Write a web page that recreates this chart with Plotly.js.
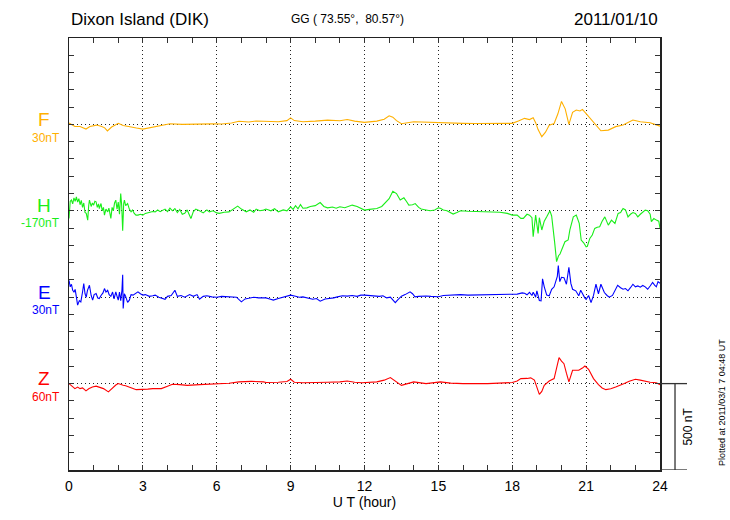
<!DOCTYPE html>
<html>
<head>
<meta charset="utf-8">
<script src="https://cdn.plot.ly/plotly-3.0.1.min.js"></script>
<style>html,body{margin:0;padding:0;background:#fff;}#chart{width:730px;height:520px;}</style>
</head>
<body>
<div id="chart"></div>
<script>
// Time in UT hours, values = deviation in nT from each component's baseline
const tF = [0,0.12,0.24,0.45,0.6,0.69,0.85,1.0,1.12,1.33,1.45,1.56,1.73,1.88,2.0,2.2,2.4,2.54,2.74,3.0,3.28,3.55,3.8,4.1,4.6,5.0,5.3,5.8,6.2,6.6,6.9,7.3,7.6,8.0,8.5,8.85,9.0,9.15,9.5,10.0,10.5,11.0,11.3,11.6,12.0,12.5,12.8,13.0,13.15,13.3,13.5,14.0,14.5,15.0,15.5,16.0,16.5,17.0,17.5,18.0,18.25,18.5,18.7,18.85,18.95,19.05,19.2,19.35,19.5,19.7,19.85,20.0,20.15,20.3,20.45,20.6,20.75,20.85,21.0,21.3,21.6,21.9,22.2,22.5,22.9,23.2,23.6,24.0];
const vF = [8,0,-12,-12,-20,-27,-12,-6,-4,-12,-20,-38,-15,-3,6,-6,-10,-15,-21,-27,-19,-15,-6,4,0,2,0,3,2,8,18,14,20,19,15,22,38,22,15,19,25,21,28,19,12,19,30,50,42,22,4,15,12,12,8,6,5,4,5,6,20,35,28,38,10,-30,-71,-45,-5,5,60,133,90,0,70,83,78,87,63,15,-37,-33,-13,-4,25,15,10,-10];

const tH = [0.0,0.05,0.1,0.15,0.2,0.25,0.3,0.35,0.4,0.45,0.5,0.55,0.6,0.65,0.7,0.76,0.8,0.83,0.9,0.95,1.0,1.05,1.1,1.15,1.2,1.23,1.3,1.35,1.4,1.44,1.5,1.57,1.62,1.7,1.75,1.8,1.85,1.9,1.95,2.0,2.05,2.1,2.14,2.18,2.22,2.25,2.3,2.38,2.45,2.52,2.58,2.65,2.72,2.8,2.9,3.0,3.1,3.26,3.4,3.5,3.6,3.7,3.8,3.9,4.0,4.1,4.2,4.3,4.4,4.5,4.6,4.7,4.8,4.95,5.05,5.15,5.3,5.45,5.6,5.7,5.85,6.0,6.1,6.3,6.5,6.7,6.85,7.0,7.2,7.35,7.5,7.6,7.75,7.9,8.0,8.2,8.35,8.5,8.7,8.85,9.0,9.1,9.2,9.3,9.4,9.5,9.66,9.8,10.0,10.2,10.35,10.5,10.7,10.85,11.0,11.2,11.35,11.5,11.7,11.84,12.0,12.2,12.5,12.7,12.9,13.0,13.15,13.25,13.3,13.45,13.6,13.7,13.8,13.95,14.06,14.2,14.3,14.5,14.67,14.85,15.0,15.08,15.2,15.35,15.5,15.6,15.75,15.9,16.2,16.5,16.8,17.0,17.2,17.5,17.8,18.0,18.2,18.35,18.45,18.6,18.7,18.8,18.85,18.95,19.05,19.1,19.2,19.3,19.4,19.53,19.6,19.64,19.72,19.8,19.88,19.94,20.05,20.14,20.27,20.34,20.48,20.6,20.72,20.8,20.9,21.0,21.05,21.15,21.25,21.35,21.45,21.55,21.65,21.76,21.9,22.03,22.17,22.3,22.4,22.5,22.6,22.7,22.8,22.9,23.0,23.1,23.2,23.3,23.4,23.5,23.6,23.65,23.75,23.85,23.95,24.0];
const vH = [-44,55,62,40,75,55,80,50,70,35,60,20,45,-10,-15,-54,30,62,25,45,33,55,52,20,40,13,42,0,20,-25,10,-6,15,-44,20,0,45,62,10,50,-20,100,30,-115,40,62,30,42,10,-6,5,-15,-25,-25,-20,-25,-15,-10,-4,-6,5,-5,4,10,-5,15,0,13,-10,8,-20,-15,5,-45,-5,10,0,-12,5,-6,0,-12,-15,-8,-6,15,27,10,-6,5,-8,10,0,4,10,0,12,-6,5,0,23,8,30,12,36,15,17,25,30,48,25,17,22,15,23,18,25,33,25,15,4,8,13,25,52,70,113,105,100,62,75,55,33,35,42,20,10,5,0,5,17,15,5,0,-10,-19,-10,0,-3,-5,-5,-8,-10,-8,-15,-25,-25,-44,-44,-20,-25,-40,-150,-25,-131,-40,-111,-60,-35,0,-30,-73,-180,-294,-260,-250,-210,-179,-169,-111,-35,-25,-73,-169,-185,-208,-205,-160,-140,-102,-95,-92,-60,-35,-83,-54,-73,-15,-10,13,5,-35,-20,-10,-15,-35,-20,-10,4,0,-20,-63,-45,-54,-60,-100];

const tE = [0.0,0.05,0.1,0.15,0.2,0.25,0.3,0.35,0.42,0.48,0.55,0.6,0.65,0.7,0.75,0.83,0.9,0.96,1.02,1.1,1.17,1.23,1.3,1.38,1.44,1.5,1.57,1.63,1.7,1.77,1.83,1.9,1.96,2.0,2.05,2.1,2.15,2.18,2.2,2.25,2.3,2.38,2.45,2.52,2.6,2.7,2.8,2.9,3.0,3.1,3.26,3.4,3.5,3.65,3.8,3.9,4.0,4.15,4.3,4.4,4.55,4.7,4.9,5.05,5.2,5.3,5.45,5.6,5.8,6.0,6.2,6.4,6.6,6.8,7.0,7.15,7.3,7.5,7.7,7.9,8.0,8.15,8.3,8.5,8.7,8.85,9.0,9.2,9.35,9.5,9.7,9.9,10.05,10.2,10.4,10.6,10.75,10.9,11.1,11.3,11.5,11.7,11.85,12.0,12.2,12.4,12.6,12.75,12.9,13.05,13.15,13.25,13.35,13.5,13.65,13.85,13.95,14.05,14.2,14.35,14.5,14.7,14.85,15.0,15.2,15.35,15.6,15.9,16.2,16.6,17.0,17.4,17.8,18.0,18.2,18.4,18.5,18.6,18.7,18.8,18.85,18.9,18.95,19.0,19.05,19.1,19.17,19.23,19.3,19.4,19.5,19.6,19.7,19.77,19.83,19.87,19.93,20.0,20.1,20.2,20.3,20.38,20.45,20.58,20.65,20.7,20.78,20.85,20.95,21.0,21.1,21.2,21.3,21.4,21.5,21.6,21.74,21.85,21.94,22.07,22.18,22.28,22.4,22.5,22.6,22.7,22.8,22.9,23.0,23.1,23.2,23.3,23.4,23.5,23.6,23.7,23.78,23.85,23.92,24.0];
const vE = [98,60,75,40,30,45,0,-46,-20,-27,30,79,20,0,40,69,10,-17,15,21,-5,-8,10,25,50,30,40,15,5,30,-10,31,0,-17,30,-20,40,130,-65,20,5,-30,-17,15,12,20,31,20,12,15,5,8,12,0,-8,-12,5,10,40,5,10,0,15,5,15,-12,5,8,2,0,5,3,5,0,-27,-10,-6,0,-4,-2,-4,-10,-17,-8,0,5,12,5,0,2,-5,-12,-8,-23,-10,-8,-4,2,8,6,10,5,12,12,10,8,5,8,-4,0,-15,-31,-15,6,15,31,20,2,5,8,7,5,2,3,10,12,12,15,12,14,12,14,16,19,18,25,23,14,28,10,29,15,0,37,10,-19,-21,106,60,12,8,46,60,94,120,183,90,115,113,75,173,80,46,37,20,8,40,20,-5,-12,10,-31,10,75,20,75,27,10,0,10,40,69,55,46,50,37,55,75,60,65,58,68,60,46,65,85,70,60,90,81];

const tZ = [0.0,0.12,0.24,0.35,0.45,0.55,0.69,0.8,0.95,1.1,1.25,1.4,1.6,1.7,1.8,1.9,2.0,2.1,2.2,2.3,2.46,2.6,2.73,3.0,3.2,3.4,3.75,4.0,4.2,4.5,4.8,5.3,6.0,6.5,6.9,7.4,7.9,8.0,8.5,8.85,9.0,9.15,9.5,9.9,10.5,11.0,11.3,11.6,11.9,12.5,12.8,13.05,13.3,13.5,13.75,14.0,14.5,15.08,15.5,16.0,17.0,18.0,18.2,18.35,18.6,18.75,18.9,19.0,19.1,19.2,19.3,19.5,19.7,19.8,19.9,20.0,20.1,20.2,20.3,20.45,20.6,20.7,20.85,20.95,21.1,21.3,21.5,21.65,21.8,22.0,22.2,22.35,22.55,22.75,23.0,23.2,23.4,23.6,23.85,24.0];
const vZ = [0,-15,-29,-20,-29,-25,-42,-30,-20,-15,-20,-29,-48,-35,-19,-8,0,-6,-10,-12,-23,-28,-35,-35,-32,-29,-29,-15,-4,-6,-10,-6,-3,2,10,13,10,6,8,12,25,8,5,5,8,10,15,8,5,10,20,35,10,-10,0,10,0,10,3,0,0,6,15,29,30,33,20,-20,-62,-45,-10,15,29,90,150,130,115,60,10,77,78,77,90,102,83,29,-6,-25,-35,-30,-20,-13,0,13,25,20,12,8,5,-6];

// Baselines of stacked traces (nT on plot scale) and labels
const comps = ['F','H','E','Z'];
const baseLabels = ['30nT','-170nT','30nT','60nT'];
const baselines = [2000,1500,1000,500];
const colors = ['#FFB000','#19EE19','#0000FF','#FF0000'];
const scaleBar = 500;
const xTicks = [0,3,6,9,12,15,18,21,24];

const series = [[tF,vF],[tH,vH],[tE,vE],[tZ,vZ]];
const FONT = 'Liberation Sans, Arial, Helvetica, sans-serif';

const traces = series.map((s,i)=>({
  x: s[0],
  y: s[1].map(v=>v+baselines[i]),
  type:'scatter', mode:'lines',
  line:{color:colors[i], width:1.1},
  hoverinfo:'skip', showlegend:false
}));

const annotations = [
  {text:'Dixon Island (DIK)', xref:'paper', yref:'paper', x:0, y:1.043, xanchor:'left', yanchor:'middle', showarrow:false, font:{size:17, color:'#000', family:FONT}},
  {text:'GG (\u00a073.55°,\u00a0\u00a080.57°)', xref:'paper', yref:'paper', x:0.472, y:1.043, xanchor:'center', yanchor:'middle', showarrow:false, font:{size:12, color:'#000', family:FONT}},
  {text:'2011/01/10', xref:'paper', yref:'paper', x:1, y:1.043, xanchor:'right', yanchor:'middle', showarrow:false, font:{size:17, color:'#000', family:FONT}},
  {text:'500 nT', xref:'paper', yref:'y', x:1.047, y:baselines[3]-scaleBar/2, xanchor:'center', yanchor:'middle', textangle:-90, showarrow:false, font:{size:12, color:'#000', family:FONT}},
  {text:'Plotted at 2011/03/1 7 04:48 UT', xref:'paper', yref:'paper', x:1.105, y:0.155, xanchor:'center', yanchor:'middle', textangle:-90, showarrow:false, font:{size:9, color:'#000', family:FONT}}
];
const letterOff = [30,30,30,30];
const valOff = [-78,-72,-75,-78];
comps.forEach((c,i)=>{
  annotations.push({text:c, xref:'paper', yref:'y', x:-0.042, y:baselines[i]+letterOff[i], xanchor:'center', yanchor:'middle', showarrow:false, font:{size:19, color:colors[i], family:FONT}});
  annotations.push({text:baseLabels[i], xref:'paper', yref:'y', x:-0.0118, y:baselines[i]+valOff[i], xanchor:'right', yanchor:'middle', showarrow:false, font:{size:12, color:colors[i], family:FONT}});
});

const shapes = [
  {type:'line', xref:'paper', yref:'y', x0:1, x1:1.0457, y0:baselines[3], y1:baselines[3], line:{color:'#333', width:1.3}},
  {type:'line', xref:'paper', yref:'y', x0:1.0254, x1:1.0254, y0:baselines[3]-scaleBar, y1:baselines[3], line:{color:'#333', width:1.3}},
  {type:'line', xref:'paper', yref:'y', x0:1, x1:1.0457, y0:baselines[3]-scaleBar, y1:baselines[3]-scaleBar, line:{color:'#333', width:1.3}}
];

const layout = {
  width:730, height:520,
  margin:{l:69, r:70, t:38, b:50},
  paper_bgcolor:'#fff', plot_bgcolor:'#fff',
  font:{family:FONT, color:'#000'},
  xaxis:{
    range:[0,24], tickmode:'array', tickvals:xTicks, ticktext:xTicks.map(String),
    ticks:'inside', ticklen:5, tickcolor:'#333', tickwidth:1,
    showgrid:true, gridcolor:'#222', griddash:'1px,3px', gridwidth:1,
    showline:true, linecolor:'#222', linewidth:1.5, mirror:'ticks', zeroline:false,
    minor:{tickmode:'linear', tick0:0, dtick:1, ticks:'inside', ticklen:5, tickcolor:'#333', showgrid:false},
    tickfont:{size:14, family:FONT, color:'#000'},
    ticklabelstandoff:3,
    title:{text:'U T (hour)', font:{size:14, family:FONT, color:'#000'}, standoff:2}
  },
  yaxis:{
    range:[0,2500], tickmode:'linear', tick0:0, dtick:500, showticklabels:false,
    ticks:'inside', ticklen:5, tickcolor:'#333',
    showgrid:true, gridcolor:'#222', griddash:'1px,3px', gridwidth:1,
    showline:true, linecolor:'#222', linewidth:1.5, mirror:'ticks', zeroline:false,
    minor:{tickmode:'linear', tick0:0, dtick:100, ticks:'inside', ticklen:5, tickcolor:'#333', showgrid:false}
  },
  annotations:annotations,
  shapes:shapes
};

Plotly.newPlot('chart', traces, layout, {displayModeBar:false, staticPlot:true});
</script>
</body>
</html>
